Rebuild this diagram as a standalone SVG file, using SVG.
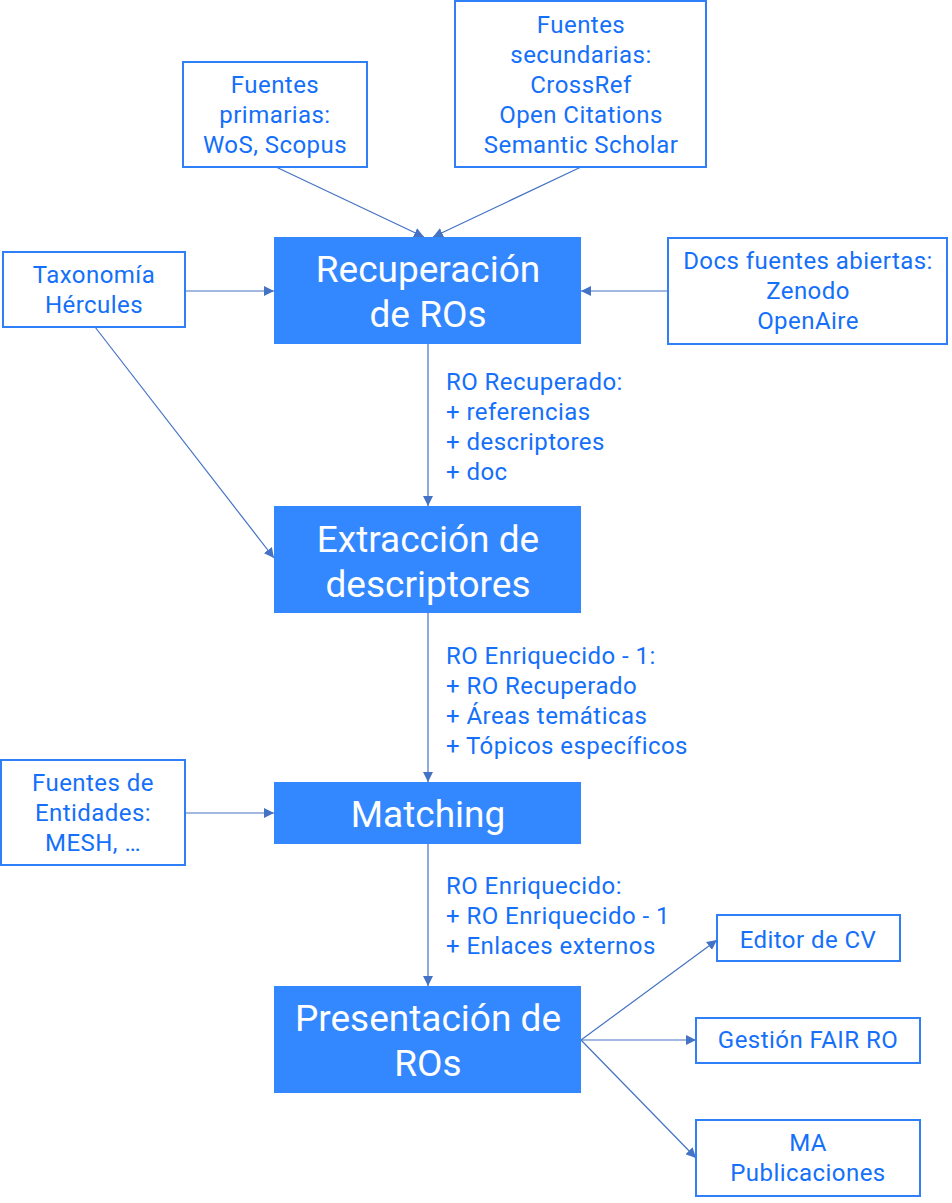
<svg xmlns="http://www.w3.org/2000/svg" width="952" height="1203" viewBox="0 0 952 1203">
<defs>
<marker id="ah" markerWidth="10" markerHeight="10" refX="10" refY="5" orient="auto" markerUnits="userSpaceOnUse">
<path d="M0,0 L10,5 L0,10 Z" fill="#4472c4"/>
</marker>
<style>
.src rect{fill:#fff;stroke:#2f80f8;stroke-width:2}
.src text{font-family:Roboto,"Liberation Sans",sans-serif;font-size:24px;letter-spacing:0.45px;fill:#1470fa;text-anchor:middle;dominant-baseline:central}
.main rect{fill:#3388ff}
.main text{font-family:Roboto,"Liberation Sans",sans-serif;font-size:37px;fill:#fff;text-anchor:middle;dominant-baseline:central}
.lbl{font-family:Roboto,"Liberation Sans",sans-serif;font-size:24px;letter-spacing:0.45px;fill:#1470fa;dominant-baseline:central}
.conn line{stroke:#4472c4;stroke-width:1.2;marker-end:url(#ah)}
</style>
</defs>
<rect width="952" height="1203" fill="#fff"/>
<g class="conn" id="connectors">
<line x1="276" y1="167" x2="424" y2="237"/>
<line x1="581" y1="167" x2="433" y2="237"/>
<line x1="185" y1="291" x2="274" y2="291"/>
<line x1="668" y1="291" x2="581" y2="291"/>
<line x1="95" y1="327" x2="274" y2="558"/>
<line x1="428" y1="344" x2="428" y2="506"/>
<line x1="428" y1="613" x2="428" y2="782"/>
<line x1="185" y1="813" x2="274" y2="813"/>
<line x1="428" y1="844" x2="428" y2="986"/>
<line x1="581" y1="1040" x2="717" y2="940"/>
<line x1="581" y1="1040" x2="696" y2="1040"/>
<line x1="581" y1="1040" x2="696" y2="1158"/>
</g>
<g id="primarias" class="src"><rect x="183" y="62" width="184" height="105"/>
<text x="275" y="85">Fuentes</text><text x="275" y="115">primarias:</text><text x="275" y="145">WoS, Scopus</text></g>
<g id="secundarias" class="src"><rect x="455" y="1" width="251" height="166"/>
<text x="581" y="25">Fuentes</text><text x="581" y="55">secundarias:</text><text x="581" y="85">CrossRef</text><text x="581" y="115">Open Citations</text><text x="581" y="145">Semantic Scholar</text></g>
<g id="taxonomia" class="src"><rect x="3" y="252" width="182" height="75"/>
<text x="94" y="275">Taxonomía</text><text x="94" y="305">Hércules</text></g>
<g id="docs" class="src"><rect x="668" y="238" width="279" height="106"/>
<text x="808" y="261">Docs fuentes abiertas:</text><text x="808" y="291">Zenodo</text><text x="808" y="321">OpenAire</text></g>
<g id="recuperacion" class="main"><rect x="274" y="237" width="307" height="107"/>
<text x="428" y="269">Recuperación</text><text x="428" y="314">de ROs</text></g>
<text class="lbl" x="446" y="382">RO Recuperado:</text>
<text class="lbl" x="446" y="412">+ referencias</text>
<text class="lbl" x="446" y="442">+ descriptores</text>
<text class="lbl" x="446" y="472">+ doc</text>
<g id="extraccion" class="main"><rect x="274" y="506" width="307" height="107"/>
<text x="428" y="539">Extracción de</text><text x="428" y="584">descriptores</text></g>
<text class="lbl" x="446" y="656">RO Enriquecido - 1:</text>
<text class="lbl" x="446" y="686">+ RO Recuperado</text>
<text class="lbl" x="446" y="716">+ Áreas temáticas</text>
<text class="lbl" x="446" y="746">+ Tópicos específicos</text>
<g id="entidades" class="src"><rect x="1" y="760" width="184" height="105"/>
<text x="93" y="783">Fuentes de</text><text x="93" y="813">Entidades:</text><text x="93" y="843">MESH, …</text></g>
<g id="matching" class="main"><rect x="274" y="782" width="307" height="62"/>
<text x="428" y="814">Matching</text></g>
<text class="lbl" x="446" y="886">RO Enriquecido:</text>
<text class="lbl" x="446" y="916">+ RO Enriquecido - 1</text>
<text class="lbl" x="446" y="946">+ Enlaces externos</text>
<g id="presentacion" class="main"><rect x="274" y="986" width="307" height="107"/>
<text x="428" y="1018">Presentación de</text><text x="428" y="1063">ROs</text></g>
<g id="editor" class="src"><rect x="717" y="915" width="183" height="46"/>
<text x="808" y="940">Editor de CV</text></g>
<g id="gestion" class="src"><rect x="696" y="1018" width="224" height="45"/>
<text x="808" y="1040">Gestión FAIR RO</text></g>
<g id="ma" class="src"><rect x="696" y="1120" width="224" height="76"/>
<text x="808" y="1143">MA</text><text x="808" y="1173">Publicaciones</text></g>
</svg>
